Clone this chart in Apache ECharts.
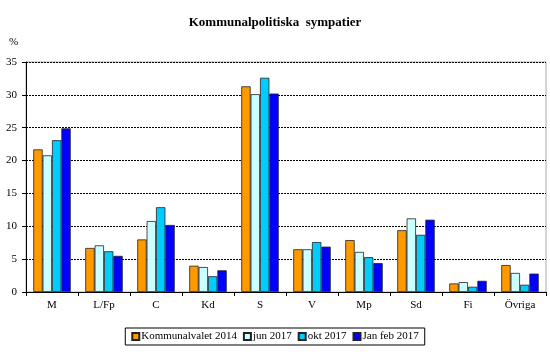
<!DOCTYPE html>
<html><head><meta charset="utf-8">
<script src="https://cdn.jsdelivr.net/npm/echarts@6/dist/echarts.min.js"></script>
<style>html,body{margin:0;padding:0;background:#fff}#c{width:550px;height:354px}</style>
</head><body><div id="c"></div>
<script>
const categories = ['M','L/Fp','C','Kd','S','V','Mp','Sd','Fi','Övriga'];
const seriesNames = ['Kommunalvalet 2014','jun 2017','okt 2017','Jan feb 2017'];
const kommunalvalet2014 = [21.7, 6.7, 8.0, 4.0, 31.3, 6.5, 7.9, 9.4, 1.3, 4.1];
const jun2017 = [20.8, 7.1, 10.8, 3.8, 30.1, 6.5, 6.1, 11.2, 1.5, 2.9];
const okt2017 = [23.1, 6.2, 12.9, 2.4, 32.6, 7.6, 5.3, 8.7, 0.8, 1.1];
const janfeb2017 = [24.9, 5.5, 10.2, 3.3, 30.2, 6.9, 4.4, 11.0, 1.7, 2.8];
const yTicks = [0,5,10,15,20,25,30,35];
const colors = ['#FF9900','#CCFFFF','#00CCFF','#0000FF'];
const font = 'Liberation Serif, Times New Roman, serif';
const chart = echarts.init(document.getElementById('c'));
const dataSets = [kommunalvalet2014, jun2017, okt2017, janfeb2017];
chart.setOption({
  animation: false,
  title: {text: 'Kommunalpolitiska  sympatier', left: 'center', top: 11,
    textStyle: {fontFamily: font, fontSize: 13, fontWeight: 'bold', color: '#000'}},
  graphic: [{type: 'text', left: 9, top: 37, style: {text: '%', font: '11px ' + font, fill: '#000'}}],
  legend: {top: 328, left: 'center', itemWidth: 7, itemHeight: 7, itemGap: 6,
    borderColor: '#000', borderWidth: 1, padding: [3, 6, 3, 6], icon: 'rect',
    textStyle: {fontFamily: font, fontSize: 11, color: '#000', padding: [0, 0, 0, -3]},
    data: seriesNames},
  grid: {left: 26, right: 4, top: 62, bottom: 62, show: true, borderColor: '#aaa', borderWidth: 1, containLabel: false},
  xAxis: {type: 'category', data: categories,
    axisLine: {lineStyle: {color: '#000'}},
    axisTick: {show: true, length: 4, lineStyle: {color: '#000'}},
    axisLabel: {fontFamily: font, fontSize: 11, color: '#000', margin: 8}},
  yAxis: {type: 'value', min: 0, max: 35, interval: 5,
    axisLine: {show: true, lineStyle: {color: '#000'}},
    axisTick: {show: true, length: 4, lineStyle: {color: '#000'}},
    axisLabel: {fontFamily: font, fontSize: 11, color: '#000', margin: 9,
      formatter: v => yTicks.includes(v) ? String(v) : ''},
    splitLine: {show: true, lineStyle: {color: '#000', type: [2, 1], width: 1}}},
  series: dataSets.map((d, i) => ({
    name: seriesNames[i], type: 'bar', data: d, barGap: '0%', barCategoryGap: '28%',
    itemStyle: {color: colors[i], borderColor: '#222', borderWidth: 0.8}
  }))
});
</script></body></html>
